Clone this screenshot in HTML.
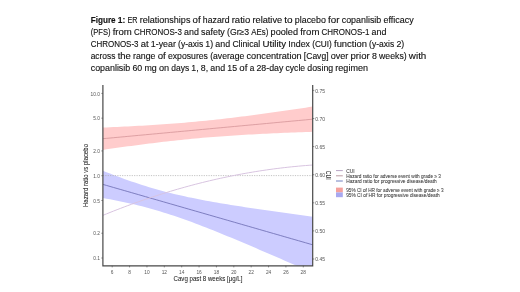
<!DOCTYPE html>
<html><head><meta charset="utf-8"><style>
html,body{margin:0;padding:0;background:#fff;}
svg{display:block;filter:blur(0.4px);}
text{font-family:"Liberation Sans",sans-serif;}
.tk{font-size:4.8px;fill:#555;}
.at{font-size:6.8px;fill:#222;stroke:#222;stroke-width:0.06px;}
.lg{font-size:4.85px;fill:#3a3a3a;stroke:#3a3a3a;stroke-width:0.06px;}
.cp{font-size:8.7px;fill:#111;stroke:#111;stroke-width:0.12px;}
.b{font-weight:bold;}
</style></head><body>
<svg width="520" height="292" viewBox="0 0 520 292">
<rect width="520" height="292" fill="#fff"/>
<defs><clipPath id="pc"><rect x="102.9" y="85.0" width="209.79999999999998" height="180.8"/></clipPath></defs>
<g clip-path="url(#pc)">
<path d="M102.90,127.52 L106.46,127.38 L110.01,127.23 L113.57,127.08 L117.12,126.92 L120.68,126.75 L124.24,126.59 L127.79,126.41 L131.35,126.23 L134.90,126.04 L138.46,125.85 L142.02,125.65 L145.57,125.45 L149.13,125.23 L152.68,125.01 L156.24,124.79 L159.79,124.55 L163.35,124.31 L166.91,124.05 L170.46,123.79 L174.02,123.52 L177.57,123.24 L181.13,122.95 L184.69,122.66 L188.24,122.35 L191.80,122.03 L195.35,121.70 L198.91,121.37 L202.47,121.02 L206.02,120.67 L209.58,120.30 L213.13,119.93 L216.69,119.54 L220.25,119.15 L223.80,118.75 L227.36,118.34 L230.91,117.92 L234.47,117.50 L238.03,117.06 L241.58,116.62 L245.14,116.17 L248.69,115.71 L252.25,115.25 L255.81,114.78 L259.36,114.30 L262.92,113.82 L266.47,113.33 L270.03,112.84 L273.58,112.34 L277.14,111.84 L280.70,111.33 L284.25,110.82 L287.81,110.30 L291.36,109.78 L294.92,109.26 L298.48,108.73 L302.03,108.19 L305.59,107.66 L309.14,107.12 L312.70,106.58 L312.70,131.82 L309.14,131.94 L305.59,132.06 L302.03,132.19 L298.48,132.32 L294.92,132.45 L291.36,132.59 L287.81,132.73 L284.25,132.87 L280.70,133.02 L277.14,133.17 L273.58,133.33 L270.03,133.49 L266.47,133.66 L262.92,133.83 L259.36,134.01 L255.81,134.20 L252.25,134.39 L248.69,134.59 L245.14,134.79 L241.58,135.00 L238.03,135.22 L234.47,135.45 L230.91,135.68 L227.36,135.92 L223.80,136.18 L220.25,136.43 L216.69,136.70 L213.13,136.98 L209.58,137.27 L206.02,137.56 L202.47,137.87 L198.91,138.18 L195.35,138.51 L191.80,138.84 L188.24,139.19 L184.69,139.54 L181.13,139.90 L177.57,140.28 L174.02,140.66 L170.46,141.05 L166.91,141.45 L163.35,141.86 L159.79,142.27 L156.24,142.70 L152.68,143.13 L149.13,143.57 L145.57,144.02 L142.02,144.48 L138.46,144.94 L134.90,145.41 L131.35,145.88 L127.79,146.36 L124.24,146.85 L120.68,147.34 L117.12,147.84 L113.57,148.34 L110.01,148.85 L106.46,149.36 L102.90,149.88Z" fill="#ffcccc"/>
<path d="M102.90,170.83 L106.46,172.22 L110.01,173.59 L113.57,174.95 L117.12,176.28 L120.68,177.60 L124.24,178.89 L127.79,180.16 L131.35,181.40 L134.90,182.61 L138.46,183.80 L142.02,184.96 L145.57,186.08 L149.13,187.18 L152.68,188.24 L156.24,189.27 L159.79,190.26 L163.35,191.22 L166.91,192.16 L170.46,193.06 L174.02,193.93 L177.57,194.77 L181.13,195.58 L184.69,196.37 L188.24,197.13 L191.80,197.87 L195.35,198.59 L198.91,199.29 L202.47,199.97 L206.02,200.63 L209.58,201.28 L213.13,201.91 L216.69,202.53 L220.25,203.14 L223.80,203.74 L227.36,204.33 L230.91,204.90 L234.47,205.47 L238.03,206.03 L241.58,206.59 L245.14,207.13 L248.69,207.67 L252.25,208.21 L255.81,208.74 L259.36,209.26 L262.92,209.78 L266.47,210.30 L270.03,210.81 L273.58,211.32 L277.14,211.82 L280.70,212.32 L284.25,212.82 L287.81,213.31 L291.36,213.81 L294.92,214.29 L298.48,214.78 L302.03,215.27 L305.59,215.75 L309.14,216.23 L312.70,216.71 L312.70,272.89 L309.14,271.32 L305.59,269.75 L302.03,268.19 L298.48,266.63 L294.92,265.07 L291.36,263.51 L287.81,261.96 L284.25,260.40 L280.70,258.85 L277.14,257.31 L273.58,255.76 L270.03,254.22 L266.47,252.69 L262.92,251.15 L259.36,249.63 L255.81,248.10 L252.25,246.58 L248.69,245.07 L245.14,243.56 L241.58,242.06 L238.03,240.57 L234.47,239.08 L230.91,237.60 L227.36,236.13 L223.80,234.67 L220.25,233.22 L216.69,231.78 L213.13,230.36 L209.58,228.94 L206.02,227.54 L202.47,226.16 L198.91,224.79 L195.35,223.45 L191.80,222.12 L188.24,220.81 L184.69,219.52 L181.13,218.26 L177.57,217.03 L174.02,215.82 L170.46,214.65 L166.91,213.50 L163.35,212.38 L159.79,211.30 L156.24,210.25 L152.68,209.23 L149.13,208.24 L145.57,207.29 L142.02,206.37 L138.46,205.48 L134.90,204.61 L131.35,203.78 L127.79,202.98 L124.24,202.20 L120.68,201.44 L117.12,200.71 L113.57,200.00 L110.01,199.30 L106.46,198.63 L102.90,197.97Z" fill="#ccccff"/>
<line x1="102.9" x2="312.7" y1="175.6" y2="175.6" stroke="#aaa" stroke-width="0.7" stroke-dasharray="1.2,1.2"/>
<path d="M102.90,138.70 L106.46,138.37 L110.01,138.04 L113.57,137.71 L117.12,137.38 L120.68,137.05 L124.24,136.72 L127.79,136.39 L131.35,136.06 L134.90,135.73 L138.46,135.39 L142.02,135.06 L145.57,134.73 L149.13,134.40 L152.68,134.07 L156.24,133.74 L159.79,133.41 L163.35,133.08 L166.91,132.75 L170.46,132.42 L174.02,132.09 L177.57,131.76 L181.13,131.43 L184.69,131.10 L188.24,130.77 L191.80,130.44 L195.35,130.11 L198.91,129.78 L202.47,129.45 L206.02,129.12 L209.58,128.78 L213.13,128.45 L216.69,128.12 L220.25,127.79 L223.80,127.46 L227.36,127.13 L230.91,126.80 L234.47,126.47 L238.03,126.14 L241.58,125.81 L245.14,125.48 L248.69,125.15 L252.25,124.82 L255.81,124.49 L259.36,124.16 L262.92,123.83 L266.47,123.50 L270.03,123.17 L273.58,122.84 L277.14,122.51 L280.70,122.17 L284.25,121.84 L287.81,121.51 L291.36,121.18 L294.92,120.85 L298.48,120.52 L302.03,120.19 L305.59,119.86 L309.14,119.53 L312.70,119.20" fill="none" stroke="#d49498" stroke-width="0.8"/>
<path d="M102.90,184.40 L106.46,185.42 L110.01,186.45 L113.57,187.47 L117.12,188.49 L120.68,189.52 L124.24,190.54 L127.79,191.57 L131.35,192.59 L134.90,193.61 L138.46,194.64 L142.02,195.66 L145.57,196.68 L149.13,197.71 L152.68,198.73 L156.24,199.76 L159.79,200.78 L163.35,201.80 L166.91,202.83 L170.46,203.85 L174.02,204.87 L177.57,205.90 L181.13,206.92 L184.69,207.95 L188.24,208.97 L191.80,209.99 L195.35,211.02 L198.91,212.04 L202.47,213.06 L206.02,214.09 L209.58,215.11 L213.13,216.14 L216.69,217.16 L220.25,218.18 L223.80,219.21 L227.36,220.23 L230.91,221.25 L234.47,222.28 L238.03,223.30 L241.58,224.33 L245.14,225.35 L248.69,226.37 L252.25,227.40 L255.81,228.42 L259.36,229.44 L262.92,230.47 L266.47,231.49 L270.03,232.52 L273.58,233.54 L277.14,234.56 L280.70,235.59 L284.25,236.61 L287.81,237.63 L291.36,238.66 L294.92,239.68 L298.48,240.71 L302.03,241.73 L305.59,242.75 L309.14,243.78 L312.70,244.80" fill="none" stroke="#6a6ab0" stroke-width="0.8"/>
<path d="M102.90,215.35 L106.46,213.90 L110.01,212.47 L113.57,211.06 L117.12,209.67 L120.68,208.30 L124.24,206.95 L127.79,205.62 L131.35,204.32 L134.90,203.03 L138.46,201.76 L142.02,200.52 L145.57,199.29 L149.13,198.09 L152.68,196.91 L156.24,195.75 L159.79,194.60 L163.35,193.48 L166.91,192.38 L170.46,191.30 L174.02,190.24 L177.57,189.20 L181.13,188.19 L184.69,187.19 L188.24,186.21 L191.80,185.26 L195.35,184.32 L198.91,183.40 L202.47,182.51 L206.02,181.64 L209.58,180.78 L213.13,179.95 L216.69,179.14 L220.25,178.35 L223.80,177.58 L227.36,176.83 L230.91,176.10 L234.47,175.39 L238.03,174.70 L241.58,174.03 L245.14,173.39 L248.69,172.76 L252.25,172.16 L255.81,171.57 L259.36,171.01 L262.92,170.46 L266.47,169.94 L270.03,169.44 L273.58,168.95 L277.14,168.49 L280.70,168.05 L284.25,167.63 L287.81,167.23 L291.36,166.85 L294.92,166.50 L298.48,166.16 L302.03,165.84 L305.59,165.55 L309.14,165.27 L312.70,165.02" fill="none" stroke="#d8c4e0" stroke-width="1.0"/>
</g>
<path d="M102.9,85.0 V265.8 H312.7 V85.0" fill="none" stroke="#484848" stroke-width="1.2"/>
<line x1="112.20" x2="112.20" y1="265.8" y2="267.40000000000003" stroke="#484848" stroke-width="0.6"/>
<text x="112.20" y="273.5" class="tk" text-anchor="middle">6</text>
<line x1="129.57" x2="129.57" y1="265.8" y2="267.40000000000003" stroke="#484848" stroke-width="0.6"/>
<text x="129.57" y="273.5" class="tk" text-anchor="middle">8</text>
<line x1="146.94" x2="146.94" y1="265.8" y2="267.40000000000003" stroke="#484848" stroke-width="0.6"/>
<text x="146.94" y="273.5" class="tk" text-anchor="middle">10</text>
<line x1="164.32" x2="164.32" y1="265.8" y2="267.40000000000003" stroke="#484848" stroke-width="0.6"/>
<text x="164.32" y="273.5" class="tk" text-anchor="middle">12</text>
<line x1="181.69" x2="181.69" y1="265.8" y2="267.40000000000003" stroke="#484848" stroke-width="0.6"/>
<text x="181.69" y="273.5" class="tk" text-anchor="middle">14</text>
<line x1="199.06" x2="199.06" y1="265.8" y2="267.40000000000003" stroke="#484848" stroke-width="0.6"/>
<text x="199.06" y="273.5" class="tk" text-anchor="middle">16</text>
<line x1="216.43" x2="216.43" y1="265.8" y2="267.40000000000003" stroke="#484848" stroke-width="0.6"/>
<text x="216.43" y="273.5" class="tk" text-anchor="middle">18</text>
<line x1="233.80" x2="233.80" y1="265.8" y2="267.40000000000003" stroke="#484848" stroke-width="0.6"/>
<text x="233.80" y="273.5" class="tk" text-anchor="middle">20</text>
<line x1="251.18" x2="251.18" y1="265.8" y2="267.40000000000003" stroke="#484848" stroke-width="0.6"/>
<text x="251.18" y="273.5" class="tk" text-anchor="middle">22</text>
<line x1="268.55" x2="268.55" y1="265.8" y2="267.40000000000003" stroke="#484848" stroke-width="0.6"/>
<text x="268.55" y="273.5" class="tk" text-anchor="middle">24</text>
<line x1="285.92" x2="285.92" y1="265.8" y2="267.40000000000003" stroke="#484848" stroke-width="0.6"/>
<text x="285.92" y="273.5" class="tk" text-anchor="middle">26</text>
<line x1="303.29" x2="303.29" y1="265.8" y2="267.40000000000003" stroke="#484848" stroke-width="0.6"/>
<text x="303.29" y="273.5" class="tk" text-anchor="middle">28</text>
<line x1="101.30000000000001" x2="102.9" y1="93.40" y2="93.40" stroke="#484848" stroke-width="0.6"/>
<text x="99.9" y="95.55" class="tk" text-anchor="end">10.0</text>
<line x1="101.30000000000001" x2="102.9" y1="118.17" y2="118.17" stroke="#484848" stroke-width="0.6"/>
<text x="99.9" y="120.32" class="tk" text-anchor="end">5.0</text>
<line x1="101.30000000000001" x2="102.9" y1="150.93" y2="150.93" stroke="#484848" stroke-width="0.6"/>
<text x="99.9" y="153.08" class="tk" text-anchor="end">2.0</text>
<line x1="101.30000000000001" x2="102.9" y1="175.70" y2="175.70" stroke="#484848" stroke-width="0.6"/>
<text x="99.9" y="177.85" class="tk" text-anchor="end">1.0</text>
<line x1="101.30000000000001" x2="102.9" y1="200.47" y2="200.47" stroke="#484848" stroke-width="0.6"/>
<text x="99.9" y="202.62" class="tk" text-anchor="end">0.5</text>
<line x1="101.30000000000001" x2="102.9" y1="233.23" y2="233.23" stroke="#484848" stroke-width="0.6"/>
<text x="99.9" y="235.38" class="tk" text-anchor="end">0.2</text>
<line x1="101.30000000000001" x2="102.9" y1="258.00" y2="258.00" stroke="#484848" stroke-width="0.6"/>
<text x="99.9" y="260.15" class="tk" text-anchor="end">0.1</text>
<line x1="312.7" x2="314.3" y1="90.40" y2="90.40" stroke="#484848" stroke-width="0.6"/>
<text x="315.2" y="92.55" class="tk" textLength="9.8" lengthAdjust="spacingAndGlyphs">0.75</text>
<line x1="312.7" x2="314.3" y1="118.50" y2="118.50" stroke="#484848" stroke-width="0.6"/>
<text x="315.2" y="120.65" class="tk" textLength="9.8" lengthAdjust="spacingAndGlyphs">0.70</text>
<line x1="312.7" x2="314.3" y1="146.60" y2="146.60" stroke="#484848" stroke-width="0.6"/>
<text x="315.2" y="148.75" class="tk" textLength="9.8" lengthAdjust="spacingAndGlyphs">0.65</text>
<line x1="312.7" x2="314.3" y1="174.70" y2="174.70" stroke="#484848" stroke-width="0.6"/>
<text x="315.2" y="176.85" class="tk" textLength="9.8" lengthAdjust="spacingAndGlyphs">0.60</text>
<line x1="312.7" x2="314.3" y1="202.80" y2="202.80" stroke="#484848" stroke-width="0.6"/>
<text x="315.2" y="204.95" class="tk" textLength="9.8" lengthAdjust="spacingAndGlyphs">0.55</text>
<line x1="312.7" x2="314.3" y1="230.90" y2="230.90" stroke="#484848" stroke-width="0.6"/>
<text x="315.2" y="233.05" class="tk" textLength="9.8" lengthAdjust="spacingAndGlyphs">0.50</text>
<line x1="312.7" x2="314.3" y1="259.00" y2="259.00" stroke="#484848" stroke-width="0.6"/>
<text x="315.2" y="261.15" class="tk" textLength="9.8" lengthAdjust="spacingAndGlyphs">0.45</text>
<text x="208" y="280.7" class="at" text-anchor="middle" textLength="69" lengthAdjust="spacingAndGlyphs">Cavg past 8 weeks [μg/L]</text>
<text transform="translate(88,175.5) rotate(-90)" class="at" text-anchor="middle" textLength="63" lengthAdjust="spacingAndGlyphs">Hazard ratio vs placebo</text>
<text transform="translate(326.0,175.3) rotate(90)" class="at" style="font-size:6.3px" text-anchor="middle" textLength="9.0" lengthAdjust="spacingAndGlyphs">CUI</text>
<line x1="336.0" x2="342.8" y1="170.6" y2="170.6" stroke="#b8a4c4" stroke-width="1.0"/>
<line x1="336.0" x2="342.8" y1="175.8" y2="175.8" stroke="#bc9ca4" stroke-width="1.0"/>
<line x1="336.0" x2="342.8" y1="181.0" y2="181.0" stroke="#7080c0" stroke-width="1.0"/>
<text x="346.2" y="172.9" class="lg">CUI</text>
<text x="346.2" y="178.1" class="lg" textLength="94.8" lengthAdjust="spacingAndGlyphs">Hazard ratio for adverse event with grade ≥ 3</text>
<text x="346.2" y="183.3" class="lg" textLength="90.6" lengthAdjust="spacingAndGlyphs">Hazard ratio for progressive disease/death</text>
<text x="346.2" y="192.3" class="lg" textLength="97.4" lengthAdjust="spacingAndGlyphs">95% CI of HR for adverse event with grade ≥ 3</text>
<text x="346.2" y="197.4" class="lg" textLength="93.6" lengthAdjust="spacingAndGlyphs">95% CI of HR for progressive disease/death</text>
<rect x="336.0" y="187.6" width="6.800000000000011" height="4.8" fill="#f4a09c"/>
<rect x="336.0" y="192.4" width="6.800000000000011" height="4.8" fill="#a8a8f0"/>
<text x="90.70" y="23.25" class="cp b" textLength="24.92" lengthAdjust="spacingAndGlyphs">Figure</text>
<text x="117.81" y="23.25" class="cp b" textLength="7.58" lengthAdjust="spacingAndGlyphs">1:</text>
<text x="127.57" y="23.25" class="cp" textLength="9.98" lengthAdjust="spacingAndGlyphs">ER</text>
<text x="139.74" y="23.25" class="cp" textLength="50.67" lengthAdjust="spacingAndGlyphs">relationships</text>
<text x="192.60" y="23.25" class="cp" textLength="8.06" lengthAdjust="spacingAndGlyphs">of</text>
<text x="202.85" y="23.25" class="cp" textLength="26.64" lengthAdjust="spacingAndGlyphs">hazard</text>
<text x="231.68" y="23.25" class="cp" textLength="18.58" lengthAdjust="spacingAndGlyphs">ratio</text>
<text x="252.45" y="23.25" class="cp" textLength="29.70" lengthAdjust="spacingAndGlyphs">relative</text>
<text x="284.34" y="23.25" class="cp" textLength="8.35" lengthAdjust="spacingAndGlyphs">to</text>
<text x="294.87" y="23.25" class="cp" textLength="31.04" lengthAdjust="spacingAndGlyphs">placebo</text>
<text x="328.11" y="23.25" class="cp" textLength="11.43" lengthAdjust="spacingAndGlyphs">for</text>
<text x="341.73" y="23.25" class="cp" textLength="39.54" lengthAdjust="spacingAndGlyphs">copanlisib</text>
<text x="383.46" y="23.25" class="cp" textLength="30.15" lengthAdjust="spacingAndGlyphs">efficacy</text>
<text x="90.70" y="35.17" class="cp" textLength="19.77" lengthAdjust="spacingAndGlyphs">(PFS)</text>
<text x="112.65" y="35.17" class="cp" textLength="19.17" lengthAdjust="spacingAndGlyphs">from</text>
<text x="134.01" y="35.17" class="cp" textLength="47.83" lengthAdjust="spacingAndGlyphs">CHRONOS-3</text>
<text x="184.03" y="35.17" class="cp" textLength="14.81" lengthAdjust="spacingAndGlyphs">and</text>
<text x="201.03" y="35.17" class="cp" textLength="23.82" lengthAdjust="spacingAndGlyphs">safety</text>
<text x="227.03" y="35.17" class="cp" textLength="22.14" lengthAdjust="spacingAndGlyphs">(Gr≥3</text>
<text x="251.37" y="35.17" class="cp" textLength="17.05" lengthAdjust="spacingAndGlyphs">AEs)</text>
<text x="270.60" y="35.17" class="cp" textLength="27.42" lengthAdjust="spacingAndGlyphs">pooled</text>
<text x="300.21" y="35.17" class="cp" textLength="19.17" lengthAdjust="spacingAndGlyphs">from</text>
<text x="321.56" y="35.17" class="cp" textLength="47.83" lengthAdjust="spacingAndGlyphs">CHRONOS-1</text>
<text x="371.59" y="35.17" class="cp" textLength="14.81" lengthAdjust="spacingAndGlyphs">and</text>
<text x="90.70" y="47.09" class="cp" textLength="47.83" lengthAdjust="spacingAndGlyphs">CHRONOS-3</text>
<text x="140.72" y="47.09" class="cp" textLength="7.88" lengthAdjust="spacingAndGlyphs">at</text>
<text x="150.79" y="47.09" class="cp" textLength="25.08" lengthAdjust="spacingAndGlyphs">1-year</text>
<text x="178.06" y="47.09" class="cp" textLength="25.12" lengthAdjust="spacingAndGlyphs">(y-axis</text>
<text x="205.36" y="47.09" class="cp" textLength="7.84" lengthAdjust="spacingAndGlyphs">1)</text>
<text x="215.39" y="47.09" class="cp" textLength="14.81" lengthAdjust="spacingAndGlyphs">and</text>
<text x="232.39" y="47.09" class="cp" textLength="27.86" lengthAdjust="spacingAndGlyphs">Clinical</text>
<text x="262.44" y="47.09" class="cp" textLength="23.74" lengthAdjust="spacingAndGlyphs">Utility</text>
<text x="288.37" y="47.09" class="cp" textLength="21.62" lengthAdjust="spacingAndGlyphs">Index</text>
<text x="312.18" y="47.09" class="cp" textLength="19.68" lengthAdjust="spacingAndGlyphs">(CUI)</text>
<text x="334.05" y="47.09" class="cp" textLength="32.87" lengthAdjust="spacingAndGlyphs">function</text>
<text x="369.11" y="47.09" class="cp" textLength="25.12" lengthAdjust="spacingAndGlyphs">(y-axis</text>
<text x="396.41" y="47.09" class="cp" textLength="7.84" lengthAdjust="spacingAndGlyphs">2)</text>
<text x="90.70" y="59.01" class="cp" textLength="24.78" lengthAdjust="spacingAndGlyphs">across</text>
<text x="117.67" y="59.01" class="cp" textLength="13.14" lengthAdjust="spacingAndGlyphs">the</text>
<text x="133.00" y="59.01" class="cp" textLength="22.47" lengthAdjust="spacingAndGlyphs">range</text>
<text x="157.66" y="59.01" class="cp" textLength="8.06" lengthAdjust="spacingAndGlyphs">of</text>
<text x="167.91" y="59.01" class="cp" textLength="40.05" lengthAdjust="spacingAndGlyphs">exposures</text>
<text x="210.14" y="59.01" class="cp" textLength="34.14" lengthAdjust="spacingAndGlyphs">(average</text>
<text x="246.48" y="59.01" class="cp" textLength="55.19" lengthAdjust="spacingAndGlyphs">concentration</text>
<text x="303.85" y="59.01" class="cp" textLength="24.66" lengthAdjust="spacingAndGlyphs">[Cavg]</text>
<text x="330.71" y="59.01" class="cp" textLength="17.67" lengthAdjust="spacingAndGlyphs">over</text>
<text x="350.56" y="59.01" class="cp" textLength="19.16" lengthAdjust="spacingAndGlyphs">prior</text>
<text x="371.91" y="59.01" class="cp" textLength="4.91" lengthAdjust="spacingAndGlyphs">8</text>
<text x="379.01" y="59.01" class="cp" textLength="27.67" lengthAdjust="spacingAndGlyphs">weeks)</text>
<text x="408.87" y="59.01" class="cp" textLength="17.47" lengthAdjust="spacingAndGlyphs">with</text>
<text x="90.70" y="70.93" class="cp" textLength="39.54" lengthAdjust="spacingAndGlyphs">copanlisib</text>
<text x="132.43" y="70.93" class="cp" textLength="9.81" lengthAdjust="spacingAndGlyphs">60</text>
<text x="144.43" y="70.93" class="cp" textLength="12.29" lengthAdjust="spacingAndGlyphs">mg</text>
<text x="158.91" y="70.93" class="cp" textLength="10.19" lengthAdjust="spacingAndGlyphs">on</text>
<text x="171.29" y="70.93" class="cp" textLength="17.89" lengthAdjust="spacingAndGlyphs">days</text>
<text x="191.37" y="70.93" class="cp" textLength="7.32" lengthAdjust="spacingAndGlyphs">1,</text>
<text x="200.88" y="70.93" class="cp" textLength="7.32" lengthAdjust="spacingAndGlyphs">8,</text>
<text x="210.39" y="70.93" class="cp" textLength="14.81" lengthAdjust="spacingAndGlyphs">and</text>
<text x="227.38" y="70.93" class="cp" textLength="9.81" lengthAdjust="spacingAndGlyphs">15</text>
<text x="239.38" y="70.93" class="cp" textLength="8.06" lengthAdjust="spacingAndGlyphs">of</text>
<text x="249.63" y="70.93" class="cp" textLength="4.64" lengthAdjust="spacingAndGlyphs">a</text>
<text x="256.46" y="70.93" class="cp" textLength="26.88" lengthAdjust="spacingAndGlyphs">28-day</text>
<text x="285.52" y="70.93" class="cp" textLength="19.61" lengthAdjust="spacingAndGlyphs">cycle</text>
<text x="307.32" y="70.93" class="cp" textLength="25.84" lengthAdjust="spacingAndGlyphs">dosing</text>
<text x="335.35" y="70.93" class="cp" textLength="32.60" lengthAdjust="spacingAndGlyphs">regimen</text>
</svg>
</body></html>
